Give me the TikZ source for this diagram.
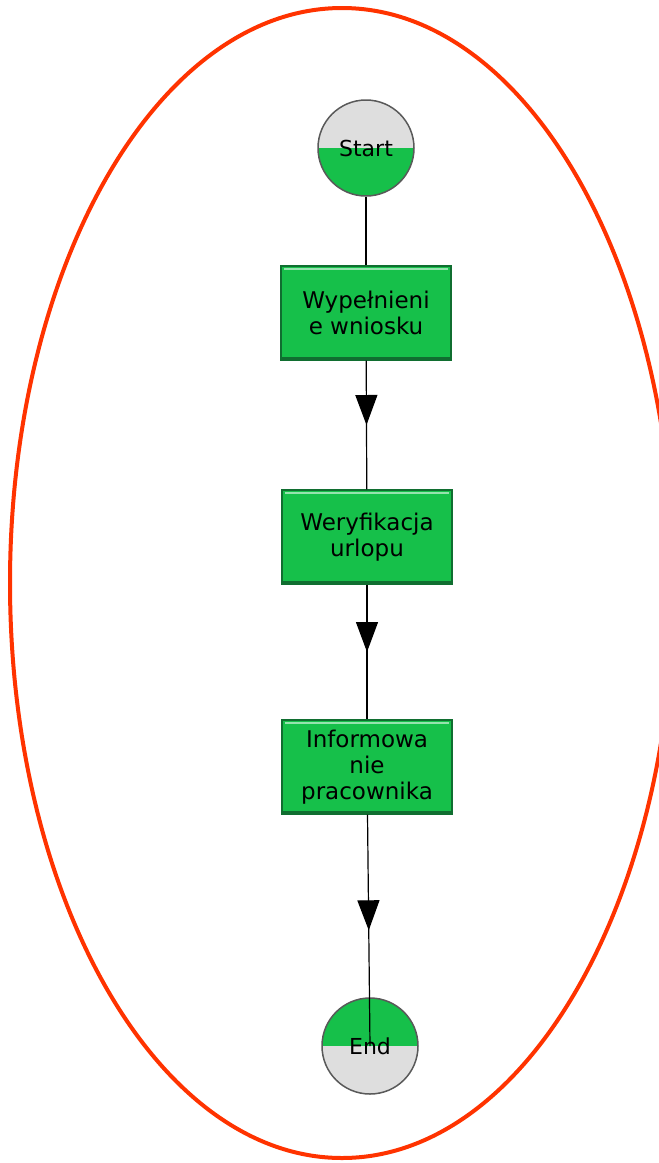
\documentclass[tikz,border=0pt]{standalone}
\usepackage{fontspec}
\setmainfont{DejaVu Sans}
\usetikzlibrary{arrows.meta,decorations.markings}

\definecolor{procgreen}{RGB}{22,192,74}
\definecolor{procedge}{RGB}{16,110,48}
\definecolor{termgrey}{RGB}{222,222,222}
\definecolor{ringred}{RGB}{255,51,0}

\begin{document}
\begin{tikzpicture}[x=1pt,y=-1pt,
  task/.style={rectangle,fill=procgreen,draw=procedge,line width=1.2pt,
    minimum width=170pt,minimum height=94pt,align=center,
    font=\fontsize{23}{26}\selectfont,
    path picture={
      \draw[white!55!procgreen,line width=2.5pt]
        ([shift={(3pt,-3pt)}]path picture bounding box.north west) --
        ([shift={(-3pt,-3pt)}]path picture bounding box.north east);
      \draw[procedge,line width=3pt]
        ([shift={(1pt,1.5pt)}]path picture bounding box.south west) --
        ([shift={(-1pt,1.5pt)}]path picture bounding box.south east);}},
  term/.style={circle,draw=black!65,line width=1.5pt,minimum size=96pt,
    inner sep=0pt,font=\fontsize{22}{24}\selectfont},
  flow/.style={draw,line width=1.2pt,postaction={decorate},
    decoration={markings,mark=at position 0.5 with
      {\arrow{Triangle[width=22pt,length=30pt]}}}}]
  \useasboundingbox (0,0) rectangle (659,1163);
  % outer ring
  \draw[ringred,line width=4pt] (342,583) ellipse [x radius=332,y radius=575];
  % start / end
  \node[term,fill=termgrey,path picture={\fill[procgreen]
      (path picture bounding box.west) rectangle
      (path picture bounding box.south east);}] (start) at (366,148) {Start};
  \node[term,fill=procgreen,path picture={\fill[termgrey]
      (path picture bounding box.west) rectangle
      (path picture bounding box.south east);}] (end) at (370,1046) {};
  % tasks
  \node[task] (fill) at (366,313) {Wypełnieni\\e wniosku};
  \node[task] (check) at (367,537) {Weryfikacja\\urlopu};
  \node[task] (inform) at (367,767) {Informowa\\nie\\pracownika};
  % connectors
  \draw[line width=1.2pt] (start) -- (fill);
  \path[flow] (fill) -- (check);
  \path[flow] (check) -- (inform);
  \path[flow] (inform) -- (end.center);
  \node[font=\fontsize{22}{24}\selectfont] (endlabel) at (end) {End};
\end{tikzpicture}
\end{document}
